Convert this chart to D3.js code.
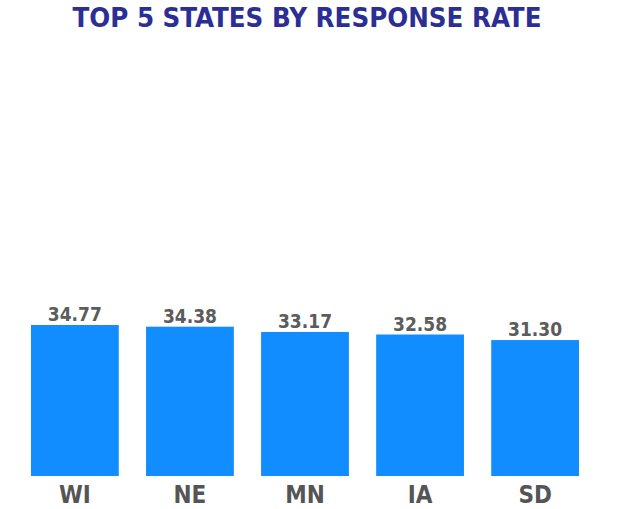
<!DOCTYPE html>
<html>
<head>
<meta charset="utf-8">
<script src="https://cdn.jsdelivr.net/npm/d3@7"></script>
<style>
  body { margin: 0; background: #fff; }
  text { font-family: "DejaVu Sans Condensed", "DejaVu Sans", sans-serif; font-weight: bold; }
</style>
</head>
<body>
<div id="chart"></div>
<script>
var states = ["WI", "NE", "MN", "IA", "SD"];
var rates = [34.77, 34.38, 33.17, 32.58, 31.30];

var width = 630, height = 509;
var baseline = 476;

var svg = d3.select("#chart").append("svg")
  .attr("width", width)
  .attr("height", height);

// title
svg.append("text")
  .attr("x", 307)
  .attr("y", 27)
  .attr("text-anchor", "middle")
  .attr("fill", "#2b2f95")
  .style("font-size", "26px")
  .attr("textLength", 469)
  .attr("lengthAdjust", "spacingAndGlyphs")
  .text("TOP 5 STATES BY RESPONSE RATE");

var x = d3.scaleBand()
  .domain(states)
  .range([17.4, 592.6])
  .paddingInner(0.237)
  .paddingOuter(0.118);

var y = d3.scaleLinear()
  .domain([0, 40])
  .range([baseline, baseline - 40 * 4.343]);

var data = states.map(function(s, i) { return {state: s, rate: rates[i]}; });

svg.selectAll(".bar")
  .data(data)
  .enter()
  .append("rect")
  .attr("class", "bar")
  .attr("x", function(d) { return x(d.state); })
  .attr("y", function(d) { return y(d.rate); })
  .attr("width", x.bandwidth())
  .attr("height", function(d) { return baseline - y(d.rate); })
  .attr("fill", "#118dff");

svg.selectAll(".val")
  .data(data)
  .enter()
  .append("text")
  .attr("class", "val")
  .attr("x", function(d) { return x(d.state) + x.bandwidth() / 2; })
  .attr("y", function(d) { return y(d.rate) - 4; })
  .attr("text-anchor", "middle")
  .attr("fill", "#5c5c5c")
  .style("font-size", "19px")
  .text(function(d) { return d.rate.toFixed(2); });

svg.selectAll(".cat")
  .data(states)
  .enter()
  .append("text")
  .attr("class", "cat")
  .attr("x", function(d) { return x(d) + x.bandwidth() / 2; })
  .attr("y", 503)
  .attr("text-anchor", "middle")
  .attr("fill", "#555555")
  .style("font-size", "24px")
  .text(function(d) { return d; });
</script>
</body>
</html>
